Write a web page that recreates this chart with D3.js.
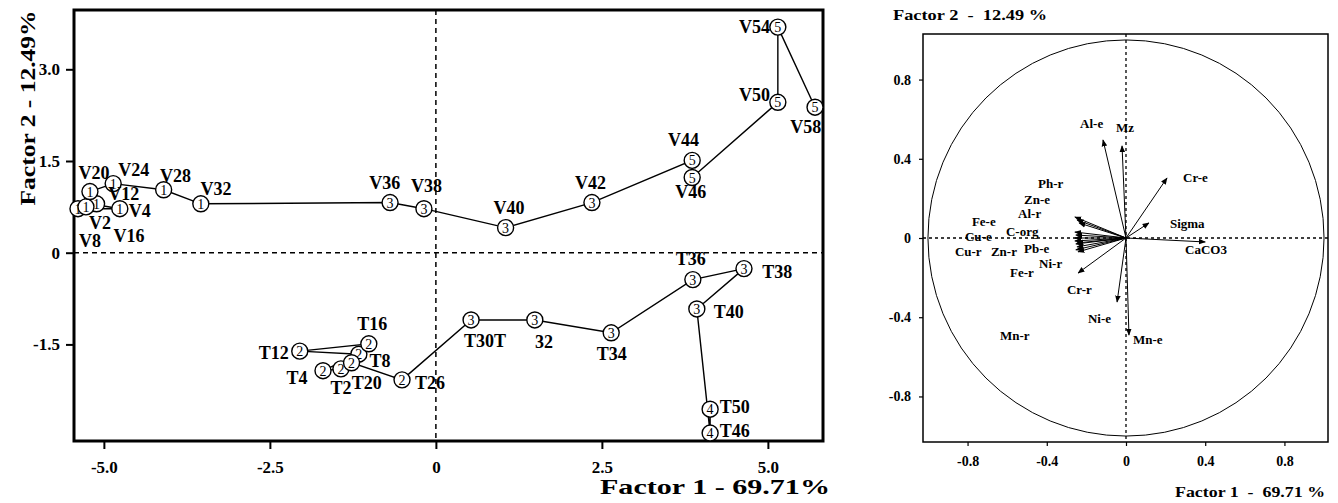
<!DOCTYPE html>
<html>
<head>
<meta charset="utf-8">
<script src="https://cdn.jsdelivr.net/npm/d3@7"></script>
<style>
  body { margin: 0; background: #fff; }
  text { font-family: "Liberation Serif", "Times New Roman", serif; font-weight: bold; fill: #000; }
</style>
</head>
<body>
<svg id="chart" width="1338" height="503"></svg>
<script>
// ---- sample scores (left plot) ----
var sampleNames  = ["V2","V4","V8","V12","V16","V20","V24","V28","V32","V36","V38","V40","V42","V44","V46","V50","V54","V58",
                    "T2","T4","T8","T12","T16","T20","T26","T30","T32","T34","T36","T38","T40","T46","T50"];
var sampleLabels = ["V2","V4","V8","V12","V16","V20","V24","V28","V32","V36","V38","V40","V42","V44","V46","V50","V54","V58",
                    "T2","T4","T8","T12","T16","T20","T26","T30T","32","T34","T36","T38","T40","T46","T50"];
var sampleGroups = [1,1,1,1,1,1,1,1,1,3,3,3,3,5,5,5,5,5,
                    2,2,2,2,2,2,2,3,3,3,3,3,3,4,4];
var factor1 = [-5.20,-4.76,-5.39,-5.11,-5.27,-5.21,-4.86,-4.10,-3.54,-0.69,-0.18,1.05,2.35,3.86,3.86,5.15,5.15,5.71,
               -1.43,-1.70,-1.16,-2.05,-1.01,-1.27,-0.51,0.53,1.49,2.64,3.87,4.64,3.93,4.13,4.13];
var factor2 = [0.80,0.72,0.72,0.80,0.75,1.00,1.13,1.03,0.80,0.82,0.72,0.41,0.82,1.51,1.23,2.46,3.69,2.38,
               -1.90,-1.93,-1.66,-1.61,-1.49,-1.80,-2.08,-1.10,-1.10,-1.31,-0.44,-0.26,-0.92,-2.95,-2.56];
// where each sample name is written (same units as the scores)
var labelF1 = [-5.06,-4.46,-5.21,-4.70,-4.62,-5.15,-4.55,-3.92,-3.31,-0.77,-0.14,1.10,2.33,3.73,3.84,4.80,4.80,5.57,
               -1.43,-2.09,-0.84,-2.44,-0.96,-1.04,-0.09,0.74,1.63,2.65,3.84,5.14,4.41,4.50,4.50];
var labelF2 = [0.39,0.59,0.10,0.87,0.18,1.21,1.25,1.16,0.95,1.05,1.00,0.64,1.05,1.74,0.89,2.48,3.59,1.95,
               -2.31,-2.15,-1.87,-1.74,-1.26,-2.23,-2.23,-1.54,-1.56,-1.75,-0.20,-0.41,-1.07,-3.02,-2.62];
var pathV = ["V2","V4","V8","V16","V12","V20","V24","V28","V32","V36","V38","V40","V42","V44","V46","V50","V54","V58"];
var pathT = ["T2","T4","T8","T12","T16","T20","T26","T30","T32","T34","T36","T38","T40","T46","T50"];
var scoreTicksX = [-5, -2.5, 0, 2.5, 5];
var scoreTicksY = [-1.5, 0, 1.5, 3];

// ---- variable loadings (right plot) ----
var varNames = ["Al-e","Mz","Cr-e","Sigma","CaCO3","Mn-e","Ni-e","Cr-r","Ph-r","Zn-e","Al-r","Fe-e","C-org","Cu-e","Cu-r","Zn-r","Pb-e","Ni-r","Fe-r","Mn-r"];
var loadF1 = [-0.116,-0.020,0.207,0.116,0.400,0.015,-0.045,-0.242,-0.258,-0.247,-0.237,-0.258,-0.253,-0.258,-0.258,-0.253,-0.247,-0.253,-0.242,-0.247];
var loadF2 = [0.495,0.465,0.303,0.076,-0.020,-0.490,-0.323,-0.177,0.106,0.091,0.076,0.030,0.015,0.000,-0.015,-0.030,-0.045,-0.060,-0.070,-0.025];
var varLabelF1 = [-0.232,-0.050,0.288,0.222,0.298,0.035,-0.192,-0.298,-0.444,-0.515,-0.545,-0.778,-0.606,-0.813,-0.864,-0.682,-0.515,-0.439,-0.586,-0.636];
var varLabelF2 = [0.556,0.535,0.283,0.050,-0.081,-0.535,-0.429,-0.283,0.253,0.172,0.101,0.061,0.010,-0.015,-0.091,-0.091,-0.076,-0.152,-0.197,-0.515];
var loadTicks = [-0.8, -0.4, 0, 0.4, 0.8];

var svg = d3.select("#chart");
var fmt = function(d) { return d === 0 ? "0" : d.toFixed(1); };

// ================= left: sample scores =================
var L = {left: 74, right: 823, top: 10, bottom: 441};
var x = d3.scaleLinear().domain([-5.45, 5.83]).range([L.left, L.right]);
var y = d3.scaleLinear().domain([-3.08, 3.97]).range([L.bottom, L.top]);

var gl = svg.append("g");

gl.append("line").attr("x1", x(0)).attr("x2", x(0)).attr("y1", L.top).attr("y2", L.bottom)
  .attr("stroke", "#000").attr("stroke-width", 1.5).attr("stroke-dasharray", "5,4");
gl.append("line").attr("x1", L.left).attr("x2", L.right).attr("y1", y(0)).attr("y2", y(0))
  .attr("stroke", "#000").attr("stroke-width", 1.5).attr("stroke-dasharray", "5,4");

var xAxisL = gl.append("g").attr("transform", "translate(0," + L.bottom + ")")
  .call(d3.axisBottom(x).tickValues(scoreTicksX).tickFormat(fmt).tickSize(8).tickPadding(12));
var yAxisL = gl.append("g").attr("transform", "translate(" + L.left + ",0)")
  .call(d3.axisLeft(y).tickValues(scoreTicksY).tickFormat(fmt).tickSize(8).tickPadding(6));
[xAxisL, yAxisL].forEach(function(a) {
  a.select(".domain").remove();
  a.selectAll("line").attr("stroke", "#000").attr("stroke-width", 2);
  a.selectAll("text").style("font-size", "17px").attr("fill", "#000");
});

gl.append("rect").attr("x", L.left).attr("y", L.top)
  .attr("width", L.right - L.left).attr("height", L.bottom - L.top)
  .attr("fill", "none").attr("stroke", "#000").attr("stroke-width", 3);

var idx = {};
sampleNames.forEach(function(n, i) { idx[n] = i; });
var line = d3.line()
  .x(function(n) { return x(factor1[idx[n]]); })
  .y(function(n) { return y(factor2[idx[n]]); });
[pathV, pathT].forEach(function(p) {
  gl.append("path").attr("d", line(p)).attr("fill", "none")
    .attr("stroke", "#000").attr("stroke-width", 1.4);
});

var pts = gl.selectAll("g.pt").data(sampleNames).enter().append("g").attr("class", "pt")
  .attr("transform", function(d, i) { return "translate(" + x(factor1[i]) + "," + y(factor2[i]) + ")"; });
pts.append("circle").attr("r", 8).attr("fill", "#fff").attr("stroke", "#000").attr("stroke-width", 1.4);
pts.append("text").text(function(d, i) { return sampleGroups[i]; })
  .attr("text-anchor", "middle").attr("dy", "0.36em")
  .style("font-size", "14px").style("font-weight", "normal");

gl.selectAll("text.lab").data(sampleLabels).enter().append("text").attr("class", "lab")
  .attr("x", function(d, i) { return x(labelF1[i]); })
  .attr("y", function(d, i) { return y(labelF2[i]); })
  .attr("text-anchor", "middle").style("font-size", "18px")
  .text(function(d) { return d; });

gl.append("text").attr("transform", "translate(35,108) rotate(-90)")
  .attr("text-anchor", "middle").style("font-size", "22px")
  .attr("textLength", 195).attr("lengthAdjust", "spacingAndGlyphs")
  .text("Factor 2 - 12.49%");
gl.append("text").attr("x", 830).attr("y", 494).attr("text-anchor", "end")
  .style("font-size", "22px").attr("textLength", 230).attr("lengthAdjust", "spacingAndGlyphs")
  .text("Factor 1 - 69.71%");

// ================= right: loadings circle =================
var R = {left: 923, right: 1328, top: 34, bottom: 442};
var xr = d3.scaleLinear().domain([-1.025, 1.02]).range([R.left, R.right]);
var yr = d3.scaleLinear().domain([-1.03, 1.03]).range([R.bottom, R.top]);

var gr = svg.append("g");

svg.append("defs").append("marker").attr("id", "ah")
  .attr("viewBox", "0 0 10 10").attr("refX", 9).attr("refY", 5)
  .attr("markerWidth", 7).attr("markerHeight", 7).attr("orient", "auto")
  .append("path").attr("d", "M0,1L10,5L0,9Z").attr("fill", "#000");

gr.append("line").attr("x1", xr(0)).attr("x2", xr(0)).attr("y1", R.top).attr("y2", R.bottom)
  .attr("stroke", "#000").attr("stroke-width", 1.3).attr("stroke-dasharray", "3,3");
gr.append("line").attr("x1", R.left).attr("x2", R.right).attr("y1", yr(0)).attr("y2", yr(0))
  .attr("stroke", "#000").attr("stroke-width", 1.3).attr("stroke-dasharray", "3,3");

gr.append("ellipse").attr("cx", xr(0)).attr("cy", yr(0))
  .attr("rx", xr(1) - xr(0)).attr("ry", yr(0) - yr(1))
  .attr("fill", "none").attr("stroke", "#000").attr("stroke-width", 1);

var xAxisR = gr.append("g").attr("transform", "translate(0," + R.bottom + ")")
  .call(d3.axisBottom(xr).tickValues(loadTicks).tickFormat(fmt).tickSize(4).tickPadding(10));
var yAxisR = gr.append("g").attr("transform", "translate(" + R.left + ",0)")
  .call(d3.axisLeft(yr).tickValues(loadTicks).tickFormat(fmt).tickSize(4).tickPadding(8));
[xAxisR, yAxisR].forEach(function(a) {
  a.select(".domain").remove();
  a.selectAll("line").attr("stroke", "#000").attr("stroke-width", 1.2);
  a.selectAll("text").style("font-size", "14px").attr("fill", "#000");
});

gr.append("rect").attr("x", R.left).attr("y", R.top)
  .attr("width", R.right - R.left).attr("height", R.bottom - R.top)
  .attr("fill", "none").attr("stroke", "#000").attr("stroke-width", 1.5);

gr.selectAll("line.arrow").data(varNames).enter().append("line").attr("class", "arrow")
  .attr("x1", xr(0)).attr("y1", yr(0))
  .attr("x2", function(d, i) { return xr(loadF1[i]); })
  .attr("y2", function(d, i) { return yr(loadF2[i]); })
  .attr("stroke", "#000").attr("stroke-width", 1).attr("marker-end", "url(#ah)");

gr.selectAll("text.vlab").data(varNames).enter().append("text").attr("class", "vlab")
  .attr("x", function(d, i) { return xr(varLabelF1[i]); })
  .attr("y", function(d, i) { return yr(varLabelF2[i]); })
  .style("font-size", "13px")
  .text(function(d) { return d; });

gr.append("text").attr("x", 893).attr("y", 20).style("font-size", "15px")
  .attr("xml:space", "preserve").attr("textLength", 154).attr("lengthAdjust", "spacingAndGlyphs")
  .text("Factor 2  -  12.49 %");
gr.append("text").attr("x", 1325).attr("y", 497).attr("text-anchor", "end").style("font-size", "15px")
  .attr("xml:space", "preserve").attr("textLength", 150).attr("lengthAdjust", "spacingAndGlyphs")
  .text("Factor 1  -  69.71 %");
</script>
</body>
</html>
